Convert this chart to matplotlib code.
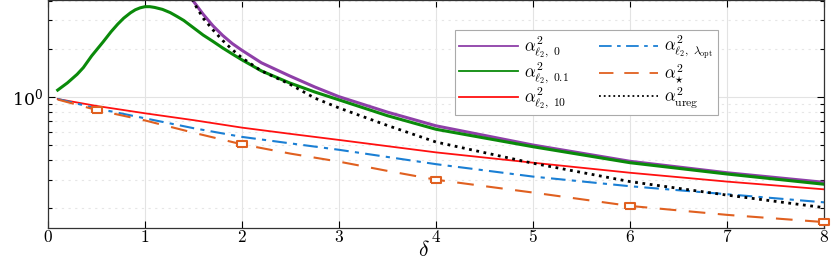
import matplotlib
matplotlib.use("Agg")
import matplotlib.pyplot as plt
import numpy as np

plt.rcParams['mathtext.fontset'] = 'cm'
plt.rcParams['font.family'] = ['DejaVu Serif']

# curves (delta, alpha^2)
d_l2_0 = [1.45, 1.5, 1.55, 1.6, 1.7, 1.8, 1.9, 2.0, 2.2, 2.49, 2.75, 3.0, 3.5, 4.0, 5.0, 6.0, 7.0, 8.0]
a_l2_0 = [4.4, 3.95, 3.6, 3.28, 2.78, 2.42, 2.15, 1.95, 1.63, 1.35, 1.15, 1.0, 0.80, 0.657, 0.498, 0.394, 0.334, 0.291]

d_l2_01 = [0.1, 0.2, 0.3, 0.364, 0.45, 0.57, 0.65, 0.72, 0.78, 0.85, 0.9, 0.95, 1.0, 1.05, 1.1,
           1.18, 1.26, 1.33, 1.4, 1.5, 1.6, 1.7, 1.8, 1.9, 2.0, 2.2, 2.49, 2.75, 3.0, 3.5, 4.0,
           5.0, 6.0, 7.0, 8.0]
a_l2_01 = [1.10, 1.22, 1.38, 1.52, 1.80, 2.21, 2.55, 2.85, 3.10, 3.35, 3.50, 3.60, 3.66, 3.66, 3.62,
           3.52, 3.36, 3.18, 3.00, 2.70, 2.43, 2.22, 2.02, 1.85, 1.70, 1.45, 1.22, 1.07, 0.955, 0.76, 0.625,
           0.486, 0.386, 0.328, 0.283]

d_l2_10 = [0.1, 0.5, 1.0, 1.5, 2.0, 2.5, 3.0, 4.0, 5.0, 6.0, 7.0, 8.0]
a_l2_10 = [0.967, 0.875, 0.787, 0.713, 0.64, 0.585, 0.536, 0.448, 0.386, 0.334, 0.294, 0.263]

d_opt = [0.1, 0.5, 1.0, 1.5, 2.0, 2.5, 3.0, 4.0, 5.0, 6.0, 7.0, 8.0]
a_opt = [0.967, 0.845, 0.732, 0.635, 0.56, 0.51, 0.465, 0.378, 0.316, 0.275, 0.245, 0.218]

d_star = [0.1, 0.5, 1.0, 1.5, 2.0, 2.5, 3.0, 3.5, 4.0, 5.0, 6.0, 7.0, 8.0]
a_star = [0.96, 0.826, 0.71, 0.595, 0.503, 0.44, 0.392, 0.343, 0.302, 0.251, 0.207, 0.182, 0.164]
d_star_marks = [0.5, 2.0, 4.0, 6.0, 8.0]

d_ureg = [1.47, 1.5, 1.6, 1.7, 1.8, 1.9, 2.0, 2.2, 2.49, 2.75, 3.0, 3.5, 4.0, 5.0, 6.0, 7.0, 8.0]
a_ureg = [4.4, 3.9, 3.1, 2.62, 2.25, 1.97, 1.75, 1.45, 1.20, 0.98, 0.85, 0.66, 0.52, 0.383, 0.294, 0.242, 0.202]

fig = plt.figure(figsize=(8.31, 2.62), dpi=100)
ax = fig.add_axes([48/831, 34/262, 776/831, 228/262])

ax.plot(d_l2_0, a_l2_0, color='#8e3fa8', lw=2.2, label=r'$\alpha^2_{\ell_2,\ 0}$')
ax.plot(d_l2_01, a_l2_01, color='#0a8a0a', lw=2.2, label=r'$\alpha^2_{\ell_2,\ 0.1}$')
ax.plot(d_l2_10, a_l2_10, color='#ff1010', lw=1.3, label=r'$\alpha^2_{\ell_2,\ 10}$')
ax.plot(d_opt, a_opt, color='#1a7fd4', lw=1.5, dashes=(7, 3, 2, 3), label=r'$\alpha^2_{\ell_2,\ \lambda_{\rm opt}}$')
ax.plot(d_star, a_star, color='#e06020', lw=1.5, dashes=(8, 6), label=r'$\alpha^2_{\star}$')
marks = [d_star.index(v) for v in d_star_marks]
rect = [(-1.6, -1), (1.6, -1), (1.6, 1), (-1.6, 1), (-1.6, -1)]
ax.plot([d_star[i] for i in marks], [a_star[i] for i in marks], ls='none', marker=rect,
        ms=7, mfc='white', mec='#e06020', mew=1.5, clip_on=False, zorder=5)
ax.plot(d_ureg, a_ureg, color='black', lw=2.0, ls=':', label=r'$\alpha^2_{\rm ureg}$')

ax.set_yscale('log')
ax.set_xlim(0, 8)
ax.set_ylim(0.1506, 4.03)
ax.set_xticks(range(0, 9))
ax.set_xticklabels([r'$%d$' % i for i in range(0, 9)])
ax.tick_params(which='both', direction='in', top=True, right=True, labelsize=12.5, width=0.8)
ax.tick_params(which='major', length=5)
ax.tick_params(which='minor', length=3)
ax.tick_params(axis='x', pad=1)
ax.grid(True, which='major', color='#e3e3e3', lw=0.8)
ax.grid(True, which='minor', axis='y', color='#e6e6e6', lw=0.8, ls=(0, (2, 4)))
ax.set_axisbelow(True)
for s in ax.spines.values():
    s.set_color('#333333')
    s.set_linewidth(0.9)

fig.text(424/831, 0.5/262, r'$\delta$', ha='center', va='bottom', fontsize=15.5)

leg = ax.legend(ncol=2, loc='upper left', bbox_to_anchor=(0.514, 0.905), fontsize=12,
                handlelength=3.5, columnspacing=1.8, labelspacing=0.0, handletextpad=0.4,
                borderpad=0.25, fancybox=False, framealpha=1)
leg.get_frame().set_edgecolor('#aaaaaa')
leg.get_frame().set_linewidth(0.8)
for h in leg.legend_handles:
    h.set_linewidth(1.3)

fig.savefig('out.png', dpi=100)
